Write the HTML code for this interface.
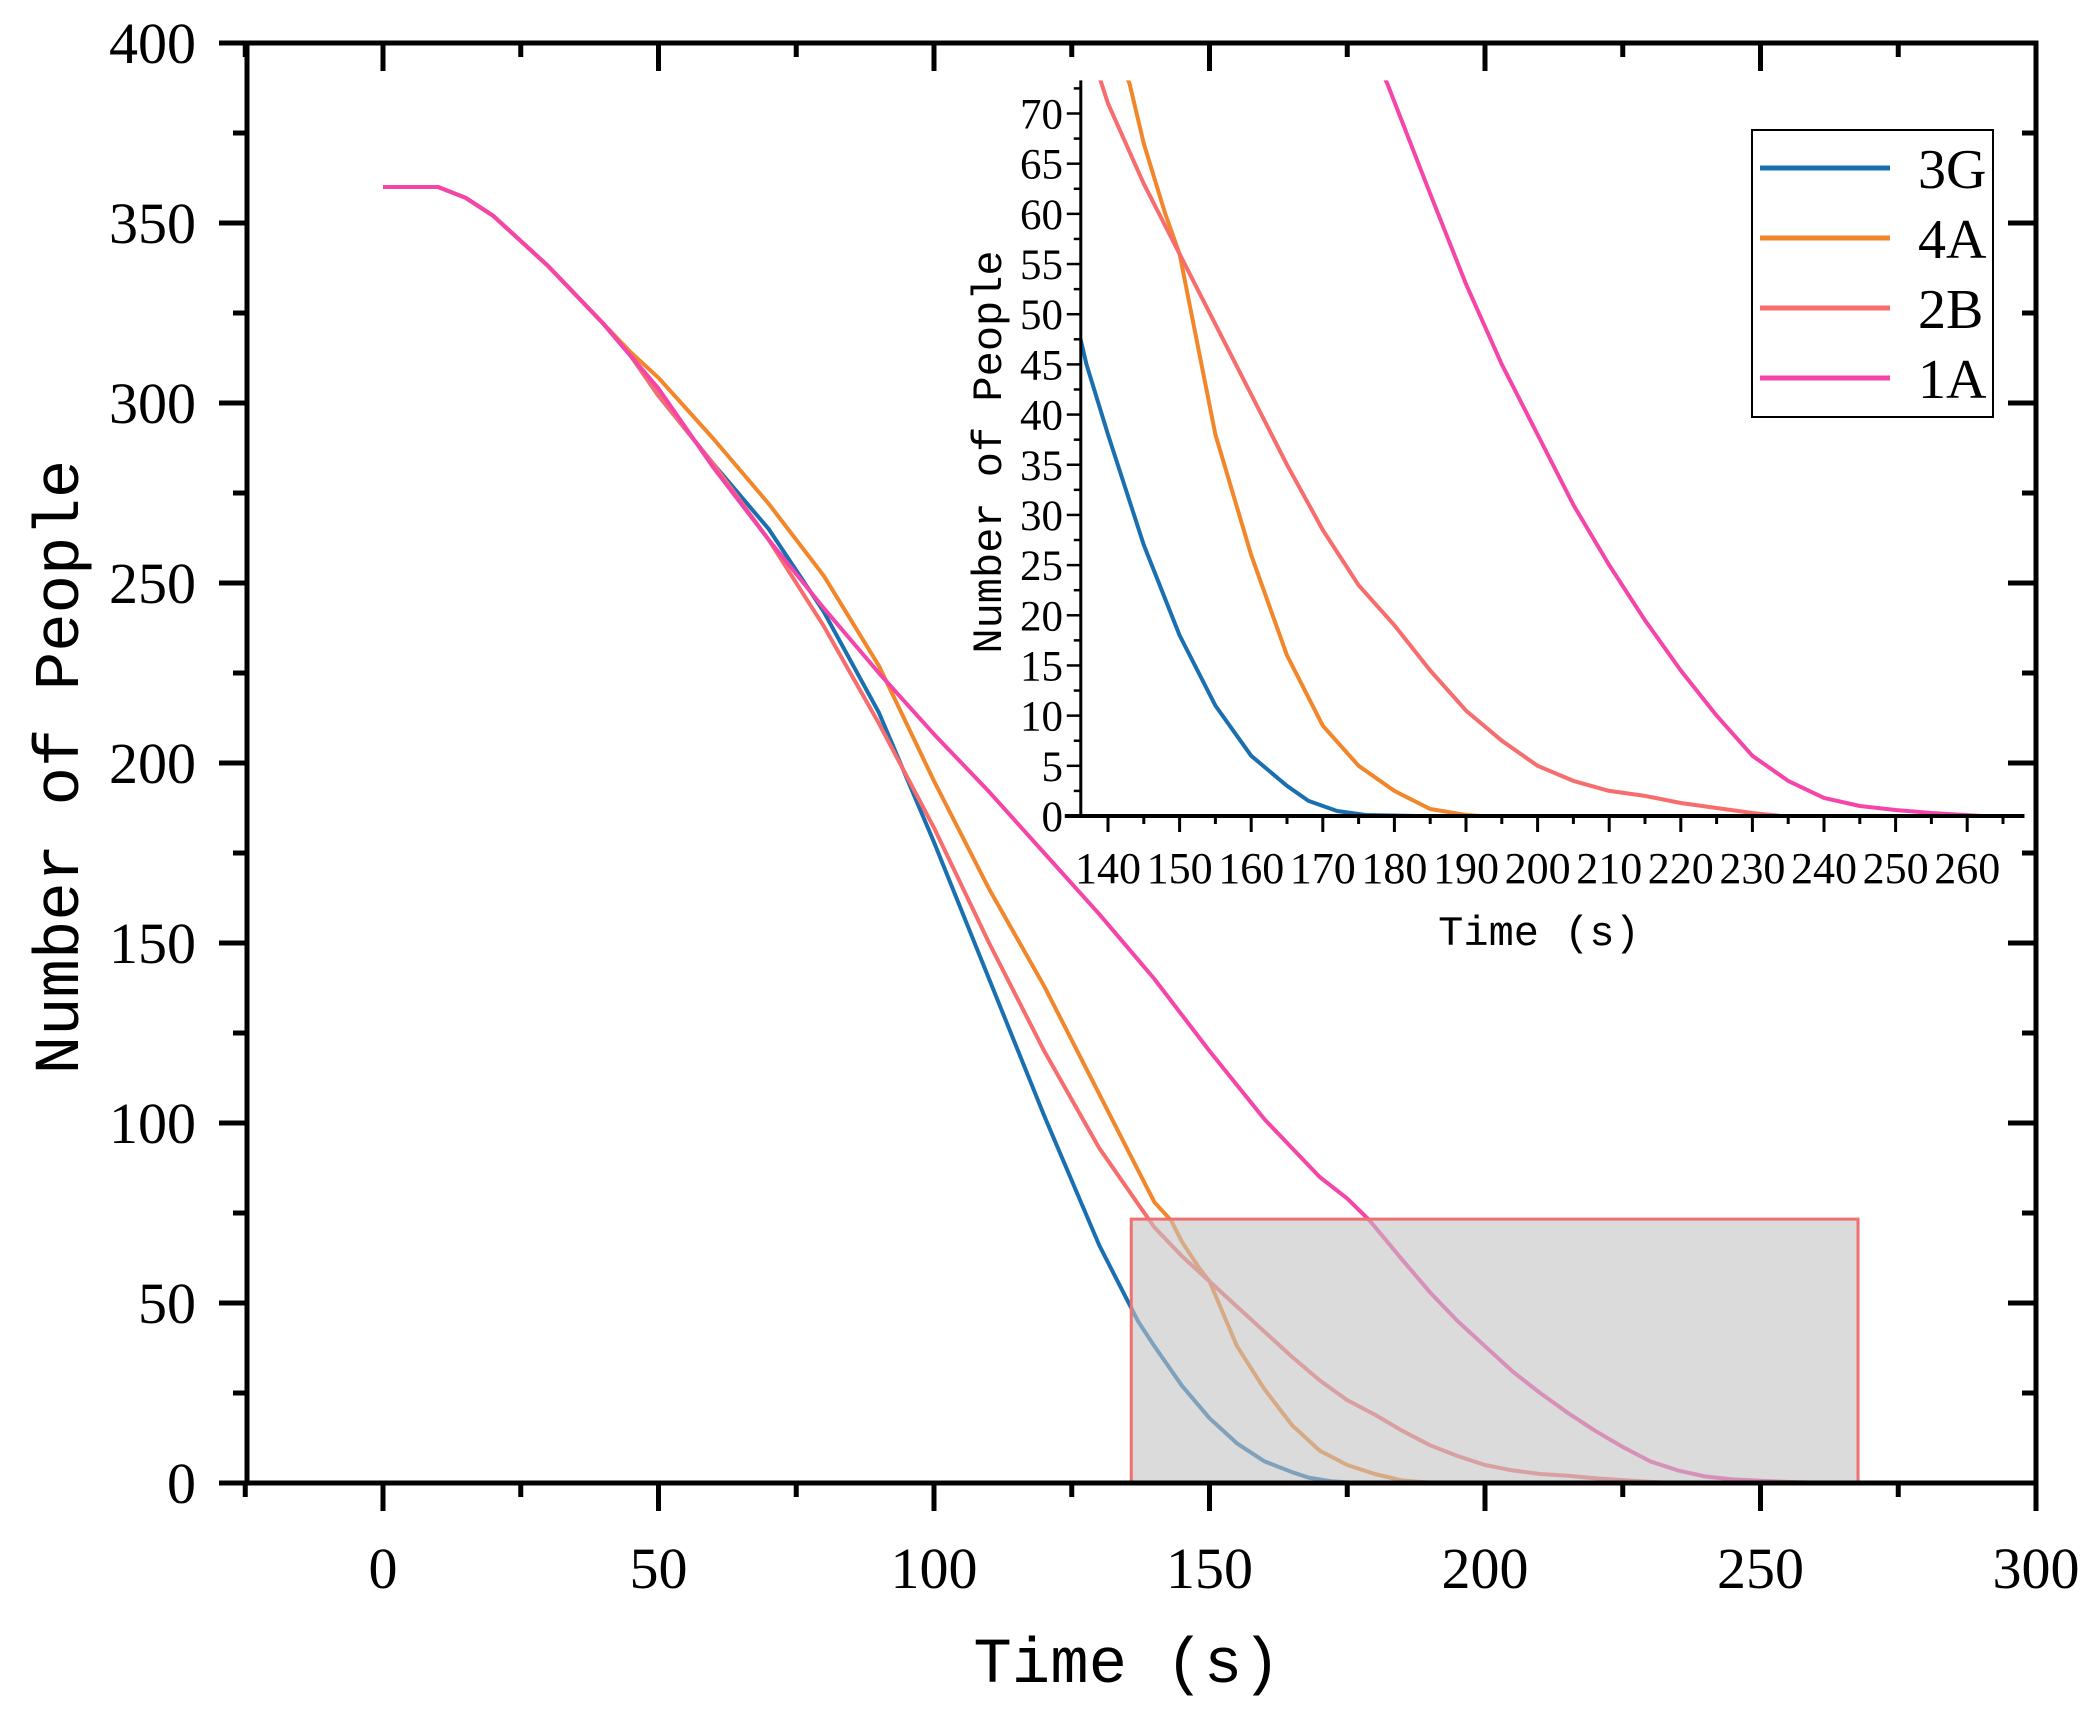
<!DOCTYPE html>
<html><head><meta charset="utf-8"><style>
html,body{margin:0;padding:0;background:#fff;}
svg{display:block;}
.tk{font-family:"Liberation Serif",serif;fill:#000;}
.mono{font-family:"Liberation Mono",monospace;fill:#000;}
</style></head><body>
<svg id="chart" width="2099" height="1709" viewBox="0 0 2099 1709" xmlns="http://www.w3.org/2000/svg">
<g id="main"></g>
<g id="inset"></g>
</svg>
<script>
const seriesNames = ["3G","4A","2B","1A"];
const seriesColors = ["#1a6fb0","#f2862a","#f76d6d","#f545a8"];
const t3G = [0,10,15,20,30,40,45,50,60,70,80,90,100,110,120,130,137,140,145,150,155,160,165,168,172,176,183];
const v3G = [360,360,357,352,338,322,313,302,283,265,242,214,178,140,102,66,45,38,27,18,11,6,3,1.5,0.5,0.1,0];
const t4A = [0,10,15,20,30,40,45,50,60,70,80,90,100,110,120,130,135,140,143,145,148,150,155,160,165,170,175,180,185,190,192];
const v4A = [360,360,357,352,338,322,314,307,290,272,252,227,195,165,138,108,93,78,73,67,60,56,38,26,16,9,5,2.5,0.7,0.1,0];
const t2B = [0,10,15,20,30,40,45,50,60,70,80,90,100,110,120,130,140,145,150,155,160,165,170,175,180,185,190,195,200,205,210,215,220,225,230,234];
const v2B = [360,360,357,352,338,322,313,302,283,262,238,211,182,150,120,93,71,63,56,49,42,35,28.5,23,19,14.5,10.5,7.5,5,3.5,2.5,2,1.3,0.8,0.3,0];
const t1A = [0,10,15,20,30,40,45,50,60,70,80,90,100,110,120,130,140,150,160,170,175,179,185,190,195,200,205,210,215,220,225,230,235,240,245,250,255,262];
const v1A = [360,360,357,352,338,322,313,304,282,262,243,225,208,192,175,158,140,120,101,85,79,73,62,53,45,38,31,25,19.5,14.5,10,6,3.5,1.8,1,0.6,0.3,0];
const seriesT = [t3G,t4A,t2B,t1A];
const seriesV = [v3G,v4A,v2B,v1A];
const mainXTicks = [0,50,100,150,200,250,300];
const mainYTicks = [0,50,100,150,200,250,300,350,400];
const insetXTicks = [140,150,160,170,180,190,200,210,220,230,240,250,260];
const insetYTicks = [0,5,10,15,20,25,30,35,40,45,50,55,60,65,70];
const zoomBox = [135.8,267.7,0,73.3];

const NS="http://www.w3.org/2000/svg";
function mk(parent,tag,attrs){const e=document.createElementNS(NS,tag);for(const k in attrs)e.setAttribute(k,attrs[k]);parent.appendChild(e);return e;}

const XR=2036;
const mx=t=>383+(t-0)*(XR-383)/300;
const my=v=>1483-v*(1483-43)/400;
const main=document.getElementById('main');
function pathFor(T,V,fx,fy){let d="";for(let i=0;i<T.length;i++){d+=(i?"L":"M")+fx(T[i]).toFixed(1)+","+fy(V[i]).toFixed(1);}return d;}
seriesNames.forEach((n,i)=>{
  const p=mk(main,'path',{d:pathFor(seriesT[i],seriesV[i],mx,my),fill:'none',stroke:seriesColors[i],'stroke-width':4,'stroke-linejoin':'round'});
  
  
});
const zb=mk(main,'rect',{x:mx(zoomBox[0]),y:my(zoomBox[3]),width:mx(zoomBox[1])-mx(zoomBox[0]),height:my(zoomBox[2])-my(zoomBox[3]),fill:'rgba(195,195,195,0.6)',stroke:'#f07070','stroke-width':3});


const fr=mk(main,'rect',{x:247,y:43,width:XR-247,height:1483-43,fill:'none',stroke:'#000','stroke-width':5});


for(let t=-25;t<=300;t+=25){
  const major=(t%50===0);
  const x=mx(t);
  mk(main,'line',{x1:x,y1:1483,x2:x,y2:1483+(major?28:14),stroke:'#000','stroke-width':5});
  mk(main,'line',{x1:x,y1:43,x2:x,y2:43+(major?28:14),stroke:'#000','stroke-width':5});
}
mainXTicks.forEach(t=>{
  const tx=mk(main,'text',{x:mx(t),y:1588,'text-anchor':'middle','font-size':58,class:'tk'});
  tx.textContent=t;
  
  
});
for(let v=0;v<=400;v+=25){
  const major=(v%50===0);
  const y=my(v);
  mk(main,'line',{x1:247,y1:y,x2:247-(major?28:14),y2:y,stroke:'#000','stroke-width':5});
  mk(main,'line',{x1:XR,y1:y,x2:XR-(major?28:14),y2:y,stroke:'#000','stroke-width':5});
}
mainYTicks.forEach(v=>{
  const tx=mk(main,'text',{x:196,y:my(v)+20,'text-anchor':'end','font-size':58,class:'tk'});
  tx.textContent=v;
  
  
});
let xt=mk(main,'text',{x:1127,y:1682,'text-anchor':'middle','font-size':64,class:'mono'});
xt.textContent="Time (s)";


let yt=mk(main,'text',{x:0,y:0,'text-anchor':'middle','font-size':64,class:'mono',transform:'translate(78,767) rotate(-90)'});
yt.textContent="Number of People";



const ins=document.getElementById('inset');
const IX0=136.2, IX1=268, IY1=73.3;
const ix=t=>1108+(t-140)*71.6/10;
const iy=v=>816-v*(816-113.5)/70;
const cp=mk(ins,'clipPath',{id:'ic'});
mk(cp,'rect',{x:ix(IX0),y:iy(IY1),width:ix(IX1)-ix(IX0),height:iy(0)-iy(IY1)});
seriesNames.forEach((n,i)=>{
  const p=mk(ins,'path',{d:pathFor(seriesT[i],seriesV[i],ix,iy),fill:'none',stroke:seriesColors[i],'stroke-width':4,'stroke-linejoin':'round','clip-path':'url(#ic)'});
  
  
});
mk(ins,'line',{x1:ix(IX0),y1:iy(IY1),x2:ix(IX0),y2:817,stroke:'#000','stroke-width':3});
mk(ins,'line',{x1:ix(IX0)-16,y1:816,x2:ix(IX1),y2:816,stroke:'#000','stroke-width':4});
for(let t=140;t<=265;t+=5){
  const major=(t%10===0);
  mk(ins,'line',{x1:ix(t),y1:816,x2:ix(t),y2:816+(major?16:8),stroke:'#000','stroke-width':3});
}
insetXTicks.forEach(t=>{
  const tx=mk(ins,'text',{x:ix(t),y:883,'text-anchor':'middle','font-size':44,class:'tk'});
  tx.textContent=t;
  
  
});
for(let v=0;v<=72.5;v+=2.5){
  const major=(v%5===0);
  mk(ins,'line',{x1:ix(IX0),y1:iy(v),x2:ix(IX0)-(major?14:7),y2:iy(v),stroke:'#000','stroke-width':2.5});
}
insetYTicks.forEach(v=>{
  const tx=mk(ins,'text',{x:1063,y:iy(v)+15,'text-anchor':'end','font-size':43,class:'tk'});
  tx.textContent=v;
  
  
});
let ixt=mk(ins,'text',{x:1539,y:945,'text-anchor':'middle','font-size':42,class:'mono'});
ixt.textContent="Time (s)";


let iyt=mk(ins,'text',{x:0,y:0,'text-anchor':'middle','font-size':42,class:'mono',transform:'translate(1001,452) rotate(-90)'});
iyt.textContent="Number of People";



const lg=mk(ins,'g',{});


mk(lg,'rect',{x:1752,y:130,width:241,height:287,fill:'#fff',stroke:'#000','stroke-width':2});
seriesNames.forEach((n,i)=>{
  const y=168+i*70;
  const l=mk(lg,'line',{x1:1760,y1:y,x2:1890,y2:y,stroke:seriesColors[i],'stroke-width':5});
  
  
  const tx=mk(lg,'text',{x:1918,y:y+20,'font-size':56,class:'tk'});
  tx.textContent=n;
  
  
});
</script>
</body></html>
